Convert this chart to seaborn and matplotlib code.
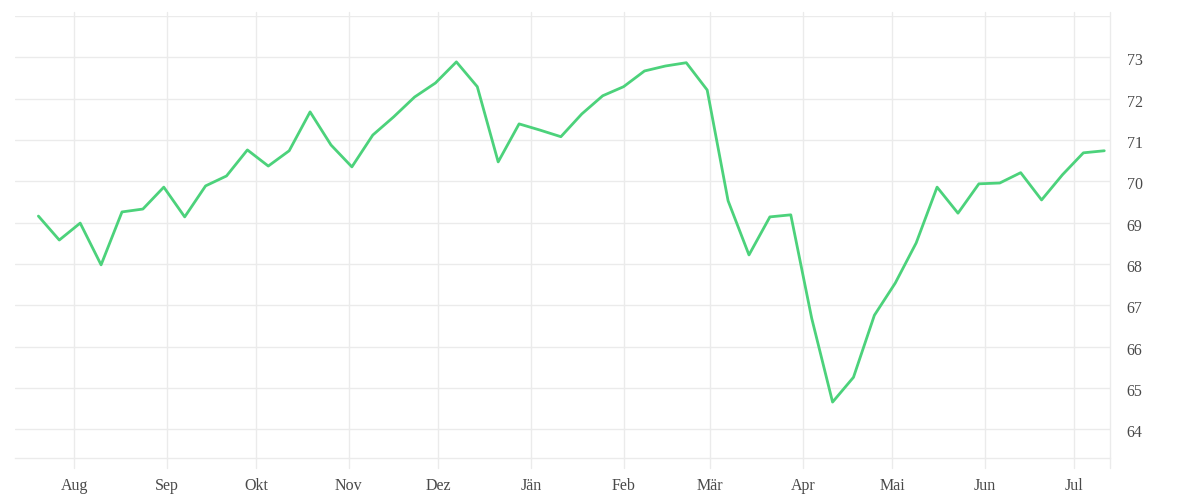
import pandas as pd
import numpy as np
import seaborn as sns
import matplotlib.pyplot as plt
import matplotlib.transforms as mtrans

# weekly values
START_DATE = "2019-07-20"
VALUES = [
    69.16, 68.58, 68.99, 67.98, 69.26, 69.33, 69.86, 69.14, 69.89, 70.13,
    70.76, 70.37, 70.74, 71.68, 70.88, 70.35, 71.12, 71.56, 72.04, 72.38,
    72.89, 72.29, 70.47, 71.39, 71.24, 71.08, 71.63, 72.07, 72.29, 72.67,
    72.79, 72.87, 72.21, 69.53, 68.22, 69.14, 69.19, 66.69, 64.66, 65.26,
    66.76, 67.54, 68.51, 69.86, 69.23, 69.94, 69.96, 70.21, 69.55, 70.16,
    70.69, 70.74,
]
MONTH_STARTS = ["2019-08-01", "2019-09-01", "2019-10-01", "2019-11-01",
                "2019-12-01", "2020-01-01", "2020-02-01", "2020-03-01",
                "2020-04-01", "2020-05-01", "2020-06-01", "2020-07-01"]
MONTH_LABELS = ["Aug", "Sep", "Okt", "Nov", "Dez", "Jän",
                "Feb", "Mär", "Apr", "Mai", "Jun", "Jul"]
Y_TICKS = [64, 65, 66, 67, 68, 69, 70, 71, 72, 73]

LINE_COLOR = "#4cd27b"
GRID_COLOR = "#ebebeb"
TEXT_COLOR = "#4a4a4a"

df = pd.DataFrame({
    "date": pd.date_range(START_DATE, periods=len(VALUES), freq="7D"),
    "value": VALUES,
})
months = pd.to_datetime(MONTH_STARTS)

sns.set_theme(style="white")
plt.rcParams["font.family"] = ["Liberation Serif", "DejaVu Serif"]

fig = plt.figure(figsize=(12, 5), dpi=100)
ax = fig.add_axes([15 / 1200, 1 - 458.3 / 500, 1095 / 1200, 442.3 / 500])

sns.lineplot(data=df, x="date", y="value", ax=ax, color=LINE_COLOR,
             linewidth=2.0, zorder=3)

x0 = pd.Timestamp("2019-07-12 04:00")
x1 = pd.Timestamp("2020-07-12 22:00")
ax.set_xlim(x0, x1)
ax.set_ylim(63.3, 74.0)

# horizontal grid
for y in Y_TICKS + [74]:
    ax.axhline(y, color=GRID_COLOR, linewidth=1, zorder=1)

# vertical grid lines, sticking out a bit above and below the plot area
h = 442.3
for m in list(months) + [x1]:
    ax.axvline(m, ymin=-10 / h, ymax=1 + 4 / h, color=GRID_COLOR,
               linewidth=1, zorder=1, clip_on=False)

for side in ["left", "right", "top"]:
    ax.spines[side].set_visible(False)
ax.spines["bottom"].set_color(GRID_COLOR)
ax.spines["bottom"].set_linewidth(1)

ax.set_xticks(months)
ax.set_xticklabels(MONTH_LABELS)
ax.yaxis.tick_right()
ax.set_yticks(Y_TICKS)
ax.set_yticklabels([str(t) for t in Y_TICKS])
ax.tick_params(axis="x", length=0, pad=14, labelsize=11.5, labelcolor=TEXT_COLOR)
ax.tick_params(axis="y", length=0, pad=12, labelsize=11.5, labelcolor=TEXT_COLOR)
# y labels sit a touch below their grid lines in the reference
shift = mtrans.ScaledTranslation(0, -2 / 100, fig.dpi_scale_trans)
for lab in ax.get_yticklabels():
    lab.set_transform(lab.get_transform() + shift)
ax.set_xlabel("")
ax.set_ylabel("")

fig.savefig("out.png", dpi=100)
